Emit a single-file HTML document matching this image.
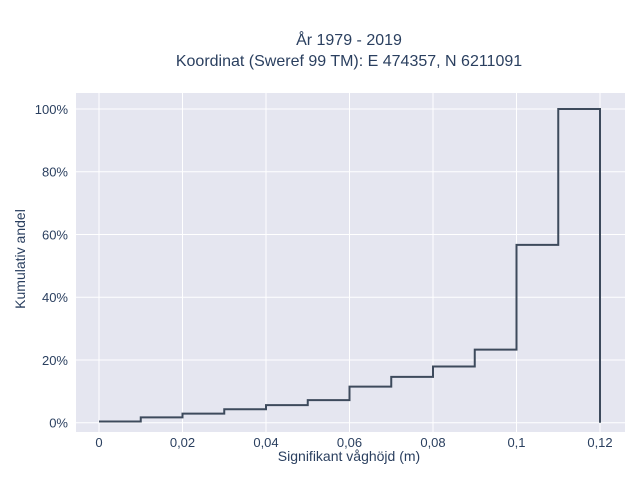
<!DOCTYPE html>
<html><head><meta charset="utf-8"><style>
body{margin:0;background:#fff;font-family:"Liberation Sans",sans-serif}
svg text{font-family:"Liberation Sans",sans-serif;fill:#2a3f5f}
</style></head><body>
<svg width="640" height="480">
<rect x="0" y="0" width="640" height="480" fill="#fff"/>
<rect x="76" y="93" width="549" height="339" fill="#e5e6f0"/>
<g id="grid"></g>
<path id="line" fill="none" stroke="#3d4a5c" stroke-width="2"/>
<g id="labels"></g>
<text x="349" y="45" text-anchor="middle" font-size="16">År 1979 - 2019</text>
<text x="349" y="66" text-anchor="middle" font-size="16">Koordinat (Sweref 99 TM): E 474357, N 6211091</text>
<text x="349" y="461" text-anchor="middle" font-size="14">Signifikant våghöjd (m)</text>
<text transform="translate(25,259) rotate(-90)" text-anchor="middle" font-size="14">Kumulativ andel</text>
</svg>
<script>
const binStarts=[0,0.01,0.02,0.03,0.04,0.05,0.06,0.07,0.08,0.09,0.10,0.11];
const binWidth=0.01;
const cumValues=[0.4,1.7,2.9,4.3,5.6,7.2,11.5,14.6,17.9,23.3,56.7,100];
const xTicks=[0,0.02,0.04,0.06,0.08,0.1,0.12];
const xTickLabels=["0","0,02","0,04","0,06","0,08","0,1","0,12"];
const yTicks=[0,20,40,60,80,100];
const yTickLabels=["0%","20%","40%","60%","80%","100%"];
const NS="http://www.w3.org/2000/svg";
const xs=v=>99+v*(501/0.12);
const ys=v=>422.7-v*3.137;
const grid=document.getElementById('grid'),labels=document.getElementById('labels');
function mk(tag,attrs,parent){const e=document.createElementNS(NS,tag);for(const k in attrs)e.setAttribute(k,attrs[k]);parent.appendChild(e);return e;}
xTicks.forEach((t,i)=>{
  const l=mk('line',{x1:xs(t),x2:xs(t),y1:93,y2:432,stroke:'#fff','stroke-width':1},grid);
  
  
  const tx=mk('text',{x:xs(t),y:438+9,'text-anchor':'middle','font-size':13},labels);
  tx.textContent=xTickLabels[i];
  
  
});
yTicks.forEach((t,i)=>{
  const l=mk('line',{x1:76,x2:625,y1:ys(t),y2:ys(t),stroke:'#fff','stroke-width':1},grid);
  
  
  const tx=mk('text',{x:68,y:ys(t)+5,'text-anchor':'end','font-size':13},labels);
  tx.textContent=yTickLabels[i];
  
  
});
let d='M'+xs(binStarts[0])+','+ys(cumValues[0]);
binStarts.forEach((b,i)=>{
  d+=' L'+xs(b)+','+ys(cumValues[i])+' L'+xs(b+binWidth)+','+ys(cumValues[i]);
});
d+=' L'+xs(binStarts[binStarts.length-1]+binWidth)+','+ys(0);
document.getElementById('line').setAttribute('d',d);
</script>
</body></html>
